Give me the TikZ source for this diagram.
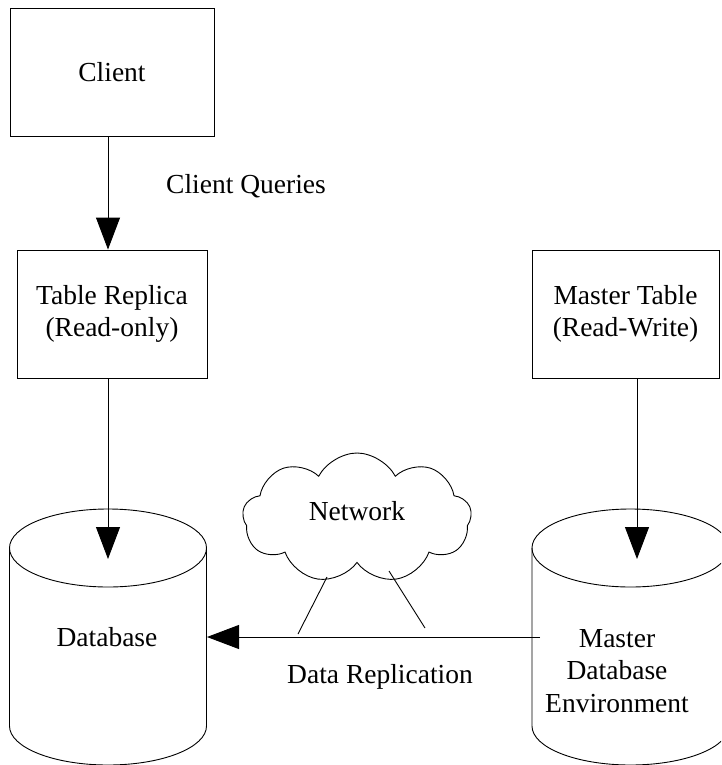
\documentclass[tikz,border=0pt]{standalone}
\usepackage{fontspec}
\setmainfont{Liberation Serif}
\usetikzlibrary{arrows.meta,shapes.symbols}
\begin{document}
\begin{tikzpicture}[x=1pt,y=-1pt,
  every node/.style={font=\fontsize{27.5}{32.5}\selectfont},
  boxnode/.style={draw,line width=0.9pt,align=center,inner sep=0pt},
  lbl/.style={inner sep=0pt,align=center},
  arr/.style={line width=0.9pt,-{Triangle[width=24pt,length=32pt]}},
  ln/.style={line width=0.9pt}]
\useasboundingbox (0,0) rectangle (721,765);
\clip (0,0) rectangle (721,765);
% boxes
\node[boxnode,minimum width=204pt,minimum height=128pt] (client) at (112,72) {Client};
\node[boxnode,minimum width=190pt,minimum height=128pt] (replica) at (112,314) {Table Replica\\(Read-only)};
\node[boxnode,minimum width=187pt,minimum height=128pt] (master) at (625.5,314) {Master Table\\(Read-Write)};
% cylinders
\draw[ln] (108,548) ellipse[x radius=98.5,y radius=39];
\draw[ln] (9.5,548) -- (9.5,726) arc[start angle=180,end angle=0,x radius=98.5,y radius=39] -- (206.5,548);
\draw[ln] (630.5,548) ellipse[x radius=98.5,y radius=39];
\draw[ln] (532,548) -- (532,726) arc[start angle=180,end angle=0,x radius=98.5,y radius=39] -- (729,548);
\node[lbl] (db) at (107,637) {Database};
\node[lbl] (mdb) at (617,671) {Master\\Database\\Environment};
% cloud
\node[draw,cloud,cloud puffs=9,cloud puff arc=125,aspect=1.75,line width=0.9pt,
      minimum width=229pt,minimum height=130pt,inner sep=0pt] (cloud) at (357,518) {};
\node[lbl] (net) at (357,511) {Network};
% coordinates
\coordinate (dbin) at (108,559);
\coordinate (mdbin) at (637,559);
\coordinate (ax) at (108,0);
\coordinate (mx) at (637,0);
\coordinate (lineR) at (540,637);
\coordinate (lineL) at (207,637);
\coordinate (c1a) at (327,577);
\coordinate (c1b) at (298,634);
\coordinate (c2a) at (389,571);
\coordinate (c2b) at (425,628);
% connectors
\draw[arr] (client.south -| ax) -- (replica.north -| ax);
\draw[arr] (replica.south -| ax) -- (dbin);
\draw[arr] (master.south -| mx) -- (mdbin);
\draw[arr] (lineR) -- (lineL);
\draw[ln] (c1a) -- (c1b);
\draw[ln] (c2a) -- (c2b);
% labels
\node[lbl] (cq) at (246,186) {Client Queries};
\node[lbl] (dr) at (380,677) {Data Replication};
\end{tikzpicture}
\end{document}
